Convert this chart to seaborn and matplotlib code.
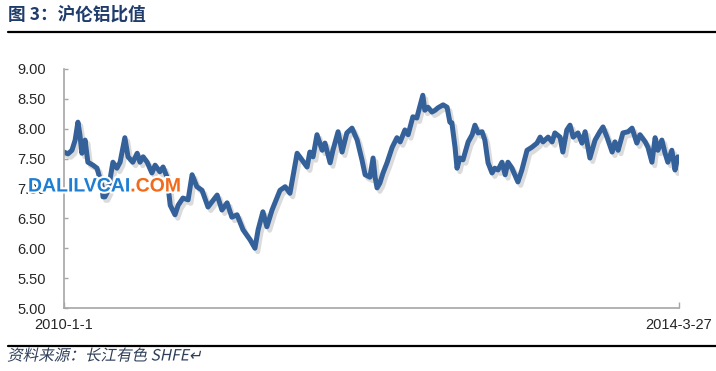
import matplotlib
matplotlib.use("Agg")
import matplotlib.pyplot as plt
import matplotlib.patheffects as pe
from matplotlib.transforms import Affine2D
import seaborn as sns
import pandas as pd
import numpy as np

# ---- data ----
start_date = "2010-01-01"
end_date = "2014-03-27"
day_offsets = [0, 10, 20, 28, 35, 40, 45, 53, 60, 73, 83, 96, 98, 103, 111, 123, 133, 141, 153, 161,
               173, 184, 191, 199, 209, 221, 229, 241, 249, 259, 267, 279, 287, 299, 312, 322, 334, 347,
               362, 385, 397, 410, 422, 435, 450, 468, 480, 488, 500, 510, 523, 543, 556, 568, 586, 598,
               611, 618, 626, 636, 649, 656, 669, 676, 689, 699, 711, 724, 737, 749, 757, 769, 777, 782,
               787, 794, 802, 812, 825, 837, 845, 857, 865, 877, 887, 890, 902, 907, 915, 925, 933, 940,
               953, 963, 970, 975, 983, 988, 995, 1003, 1016, 1026, 1033, 1041, 1051, 1058, 1066, 1076,
               1083, 1091, 1101, 1109, 1116, 1126, 1141, 1151, 1164, 1176, 1189, 1197, 1204, 1217, 1227,
               1234, 1247, 1254, 1264, 1272, 1280, 1292, 1302, 1310, 1322, 1335, 1347, 1355, 1365, 1378,
               1385, 1393, 1405, 1418, 1428, 1440, 1448, 1461, 1468, 1478, 1486, 1493, 1503, 1511, 1518,
               1528, 1536, 1543]
ratio = [7.61, 7.58, 7.64, 7.81, 8.11, 7.90, 7.59, 7.81, 7.44, 7.39, 7.34, 7.03, 6.86, 6.86, 6.97, 7.44,
         7.34, 7.44, 7.85, 7.53, 7.44, 7.59, 7.44, 7.53, 7.44, 7.26, 7.39, 7.28, 7.36, 7.19, 6.72, 6.56,
         6.72, 6.84, 6.81, 7.23, 7.03, 6.97, 6.69, 6.89, 6.64, 6.76, 6.52, 6.56, 6.31, 6.14, 6.00, 6.31,
         6.61, 6.36, 6.64, 6.97, 7.03, 6.92, 7.59, 7.48, 7.36, 7.61, 7.53, 7.90, 7.64, 7.76, 7.43, 7.64,
         7.95, 7.61, 7.93, 8.01, 7.81, 7.48, 7.23, 7.19, 7.51, 7.19, 7.01, 7.09, 7.26, 7.43, 7.69, 7.85,
         7.78, 7.98, 7.90, 8.20, 8.18, 8.26, 8.56, 8.31, 8.36, 8.28, 8.31, 8.35, 8.40, 8.36, 8.11, 8.10,
         7.69, 7.34, 7.51, 7.48, 7.78, 7.90, 8.06, 7.93, 7.95, 7.81, 7.43, 7.26, 7.34, 7.31, 7.44, 7.23,
         7.44, 7.34, 7.11, 7.31, 7.64, 7.69, 7.76, 7.86, 7.78, 7.86, 7.78, 7.93, 7.86, 7.61, 7.98, 8.06,
         7.86, 7.93, 7.76, 7.95, 7.51, 7.81, 7.95, 8.03, 7.86, 7.61, 7.78, 7.64, 7.93, 7.95, 8.01, 7.76,
         7.90, 7.78, 7.69, 7.44, 7.85, 7.64, 7.81, 7.59, 7.44, 7.64, 7.31, 7.53]
y_ticks = [5.0, 5.5, 6.0, 6.5, 7.0, 7.5, 8.0, 8.5, 9.0]
x_tick_labels = ["2010-1-1", "2014-3-27"]
title_text = "图 3：沪伦铝比值"
source_text = "资料来源：长江有色 SHFE↵"
watermark_parts = ["DALILVCAI", ".COM"]

dates = pd.Timestamp(start_date) + pd.to_timedelta(day_offsets, unit="D")
df = pd.DataFrame({"date": dates, "ratio": ratio})

sns.set_theme(style="white")
plt.rcParams["font.family"] = ["Liberation Sans", "Noto Sans CJK SC", "DejaVu Sans"]

W, H = 716, 371
fig = plt.figure(figsize=(W / 100, H / 100), dpi=100)
ax = fig.add_axes([64 / W, 1 - 308 / H, (679 - 64) / W, (308 - 69) / H])

line_color = "#34619A"
sns.lineplot(data=df, x="date", y="ratio", ax=ax, color=line_color, linewidth=3.6,
             solid_capstyle="round", solid_joinstyle="round")
for ln in ax.lines:
    ln.set_path_effects([pe.SimpleLineShadow(offset=(2.0, -2.5), shadow_color="#9a9a9a", alpha=0.35),
                         pe.Normal()])

ax.set_xlim(pd.Timestamp(start_date), pd.Timestamp(end_date))
ax.set_ylim(y_ticks[0], y_ticks[-1])
ax.set_yticks(y_ticks)
ax.set_yticklabels([f"{v:.2f}" for v in y_ticks])
ax.set_xticks([pd.Timestamp(start_date), pd.Timestamp(end_date)])
ax.set_xticklabels(x_tick_labels)
ax.set_xlabel("")
ax.set_ylabel("")

for s in ["top", "right"]:
    ax.spines[s].set_visible(False)
for s in ["left", "bottom"]:
    ax.spines[s].set_color("#a6a6a6")
    ax.spines[s].set_linewidth(1.2)
ax.tick_params(axis="y", direction="in", length=3, width=1, color="#a6a6a6",
               labelsize=10.5, labelcolor="#262626", pad=13, left=True)
ax.tick_params(axis="x", direction="in", length=4, width=1, color="#a6a6a6",
               labelsize=10.5, labelcolor="#262626", pad=7, bottom=True)
ax.grid(False)
ax.set_facecolor("none")


class Oblique(pe.AbstractPathEffect):
    """Shear text paths around an anchor point (fake italic for CJK fonts)."""

    def __init__(self, x0, y0, angle_deg=12):
        super().__init__()
        self.t = Affine2D().translate(-x0, -y0).skew_deg(angle_deg, 0).translate(x0, y0)

    def draw_path(self, renderer, gc, tpath, affine, rgbFace=None):
        renderer.draw_path(gc, tpath, affine + self.t, rgbFace)


# title and rules
fig.text(8 / W, 1 - 15 / H, title_text, ha="left", va="center", fontsize=12.7,
         fontweight="bold", color="#1F3C6B", family=["Noto Sans CJK SC", "DejaVu Sans"])
fig.add_artist(plt.Line2D([8 / W, 1], [1 - 32 / H] * 2, color="black", linewidth=1.6))
fig.add_artist(plt.Line2D([8 / W, 1], [1 - 346 / H] * 2, color="black", linewidth=1.6))
fig.text(8 / W, 1 - 356 / H, source_text, ha="left", va="center", fontsize=11.2,
         color="#2F3F5A", family=["Noto Sans CJK SC", "DejaVu Sans"],
         path_effects=[Oblique(8, 356 and H - 356, 12)])

# watermark
stroke = [pe.withStroke(linewidth=3, foreground="white")]
t1 = fig.text(28 / W, 1 - 187 / H, watermark_parts[0], ha="left", va="center", fontsize=14,
              fontweight="bold", color="#1E7ED2", family="Liberation Sans", path_effects=stroke)
fig.canvas.draw()
bb = t1.get_window_extent()
fig.text(bb.x1 / W, 1 - 187 / H, watermark_parts[1], ha="left", va="center", fontsize=14,
         fontweight="bold", color="#F26A1B", family="Liberation Sans", path_effects=stroke)

fig.savefig("out.png", dpi=100)
